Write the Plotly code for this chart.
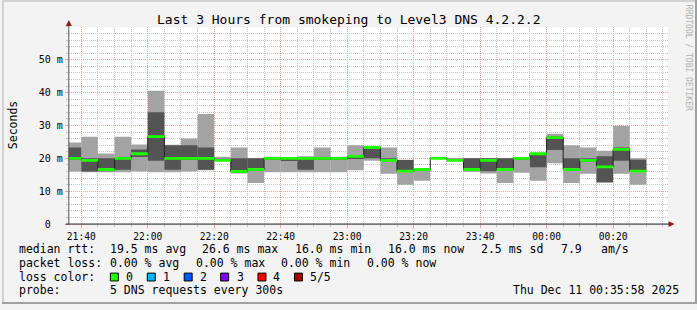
import plotly.graph_objects as go
import pandas as pd

W, H = 697, 310

# ---------------- data ----------------
# 5-minute slots (start times), 5 DNS probes per slot, sorted rtt in ms
slot_start = pd.date_range("2025-12-10 21:35:00", periods=35, freq="5min")
ping1 = [16.0, 15.8, 15.8, 15.8, 16.0, 15.8, 15.8, 16.0, 16.4, 19.2,
         15.4, 12.5, 15.8, 15.8, 15.8, 15.8, 15.8, 16.4, 19.3, 15.3,
         12.0, 13.2, 19.9, 19.2, 16.0, 15.4, 12.5, 15.6, 13.2, 18.5,
         12.5, 15.3, 12.5, 15.3, 12.0]
ping2 = [19.5, 16.0, 16.1, 16.5, 20.4, 19.3, 16.5, 19.5, 16.5, 19.3,
         15.8, 16.5, 19.8, 19.2, 16.5, 19.6, 19.6, 19.8, 20.0, 19.2,
         15.9, 16.4, 19.9, 19.3, 16.1, 16.1, 16.4, 19.6, 17.3, 22.5,
         16.4, 19.0, 12.8, 19.3, 16.0]
ping3 = [20.0, 19.4, 16.6, 20.0, 21.4, 26.6, 20.0, 20.0, 20.0, 19.4,
         16.0, 16.6, 20.0, 20.0, 20.0, 20.0, 20.0, 20.6, 23.3, 19.4,
         16.1, 16.6, 20.0, 19.4, 16.6, 19.4, 16.6, 20.0, 21.4, 26.3,
         16.6, 19.4, 17.4, 22.7, 16.1]
ping4 = [23.3, 20.0, 20.0, 20.2, 22.7, 34.0, 24.0, 24.0, 23.3, 19.8,
         20.0, 20.0, 20.2, 20.1, 20.2, 20.3, 20.2, 21.0, 23.5, 20.0,
         19.5, 16.8, 20.1, 19.8, 20.0, 20.0, 20.0, 20.2, 21.6, 26.7,
         20.0, 20.0, 20.6, 23.3, 19.6]
ping5 = [24.8, 26.6, 21.5, 26.6, 24.2, 40.6, 24.1, 26.0, 33.5, 20.5,
         23.3, 20.1, 20.5, 20.2, 20.6, 23.3, 20.5, 24.0, 23.6, 23.3,
         19.6, 17.0, 20.2, 20.0, 20.1, 20.1, 20.1, 20.4, 21.8, 27.5,
         24.0, 23.3, 22.3, 29.9, 20.0]

title_text = "Last 3 Hours from smokeping to Level3 DNS 4.2.2.2"
y_tick_vals = [0, 10, 20, 30, 40, 50]
y_tick_text = ["0\u00a0\u00a0", "10 m", "20 m", "30 m", "40 m", "50 m"]
x_range = ["2025-12-10 21:36:15", "2025-12-11 00:36:33"]

rtt_row = ["median rtt:", "19.5 ms avg", "26.6 ms max", "16.0 ms min",
           "16.0 ms now", "2.5 ms sd", "7.9", "am/s"]
loss_row = ["packet loss:", "0.00 % avg", "0.00 % max", "0.00 % min", "0.00 % now"]
loss_labels = ["0", "1", "2", "3", "4", "5/5"]
loss_colors = ["#20ff00", "#00b4ff", "#0058ff", "#7e00ff", "#ff0000", "#a10000"]
probe_row = ["probe:", "5 DNS requests every 300s"]
stamp = "Thu Dec 11 00:35:58 2025"
watermark = "RRDTOOL / TOBI OETIKER"

# ---------------- styling ----------------
FONT = "DejaVu Sans Mono"
STEP = pd.Timedelta("5min")
STEP_MS = STEP.total_seconds() * 1000
MAJOR = "#f2a0a0"
MINOR = "#c4c4c4"
LIGHT = "#a3a3a3"
DARK = "#545454"


def px(x):
    return x / W


def py(y):
    return 1 - y / H


centers = slot_start + STEP / 2

fig = go.Figure()
fig.add_trace(go.Bar(x=centers, y=[b - a for a, b in zip(ping1, ping5)], base=ping1,
                     width=STEP_MS, marker=dict(color=LIGHT, line=dict(width=0)),
                     hoverinfo="skip"))
fig.add_trace(go.Bar(x=centers, y=[b - a for a, b in zip(ping2, ping4)], base=ping2,
                     width=STEP_MS, marker=dict(color=DARK, line=dict(width=0)),
                     hoverinfo="skip"))
# median as dark step line
step_x = list(slot_start) + [slot_start[-1] + STEP]
step_y = list(ping3) + [ping3[-1]]
fig.add_trace(go.Scatter(x=step_x, y=step_y, mode="lines", line_shape="hv",
                         line=dict(color="#202020", width=1), hoverinfo="skip"))
# loss-coloured median segments (0 loss -> green)
seg_x, seg_y = [], []
for t, m in zip(slot_start, ping3):
    seg_x += [t, t + STEP, None]
    seg_y += [m, m, None]
fig.add_trace(go.Scatter(x=seg_x, y=seg_y, mode="lines",
                         line=dict(color=loss_colors[0], width=2.8), hoverinfo="skip"))

fig.update_layout(
    width=W, height=H, margin=dict(l=0, r=0, t=0, b=0),
    paper_bgcolor="#f3f3f3", plot_bgcolor="#ffffff",
    showlegend=False, barmode="overlay",
    font=dict(family=FONT, color="#000000"),
)
fig.update_xaxes(
    domain=[px(67), px(668)], type="date", range=x_range,
    tick0="2025-12-10 21:40:00", dtick=20 * 60 * 1000, tickformat="%H:%M",
    showgrid=True, gridcolor=MAJOR, gridwidth=1, griddash="1px,1px",
    ticks="outside", ticklen=3, tickcolor=MAJOR, tickwidth=1,
    tickfont=dict(family=FONT, size=9.6, color="#000000"),
    minor=dict(tick0="2025-12-10 21:40:00", dtick=5 * 60 * 1000, showgrid=True,
               gridcolor=MINOR, griddash="1px,1px", gridwidth=1,
               ticks="outside", ticklen=2, tickcolor=MINOR),
    showline=False, zeroline=False, fixedrange=True,
)
fig.update_yaxes(
    domain=[py(228.5), py(27.4)], range=[0, 60],
    tickmode="array", tickvals=y_tick_vals, ticktext=y_tick_text,
    showgrid=True, gridcolor=MAJOR, gridwidth=1, griddash="1px,1px",
    ticks="outside", ticklen=3, tickcolor=MAJOR, tickwidth=1,
    tickfont=dict(family=FONT, size=10, color="#000000"),
    minor=dict(tickmode="linear", tick0=0, dtick=2, showgrid=True,
               gridcolor=MINOR, griddash="1px,1px", gridwidth=1,
               ticks="outside", ticklen=2, tickcolor=MINOR),
    showline=False, zeroline=False, fixedrange=True,
)

shapes = []
# 3D frame
shapes.append(dict(type="rect", xref="paper", yref="paper", x0=0, x1=1, y0=py(0), y1=py(2),
                   fillcolor="#d2d2d2", line=dict(width=0), layer="above"))
shapes.append(dict(type="rect", xref="paper", yref="paper", x0=0, x1=px(2), y0=0, y1=1,
                   fillcolor="#d2d2d2", line=dict(width=0), layer="above"))
shapes.append(dict(type="rect", xref="paper", yref="paper", x0=0, x1=1, y0=py(H - 2), y1=0,
                   fillcolor="#a0a0a0", line=dict(width=0), layer="above"))
shapes.append(dict(type="rect", xref="paper", yref="paper", x0=px(W - 2), x1=1, y0=0, y1=1,
                   fillcolor="#a0a0a0", line=dict(width=0), layer="above"))
# axes with arrows
shapes.append(dict(type="line", xref="paper", yref="paper", x0=px(67), x1=px(67),
                   y0=py(229), y1=py(24), line=dict(color="#555555", width=1), layer="above"))
shapes.append(dict(type="line", xref="paper", yref="paper", x0=px(64), x1=px(670),
                   y0=py(228.5), y1=py(228.5), line=dict(color="#1a1a1a", width=1), layer="above"))
shapes.append(dict(type="path", xref="paper", yref="paper",
                   path=f"M {px(64)} {py(26.5)} L {px(70)} {py(26.5)} L {px(67)} {py(20.5)} Z",
                   fillcolor="#8e1a1a", line=dict(width=0), layer="above"))
shapes.append(dict(type="path", xref="paper", yref="paper",
                   path=f"M {px(668.5)} {py(225.5)} L {px(668.5)} {py(231.5)} L {px(674.5)} {py(228.5)} Z",
                   fillcolor="#8e1a1a", line=dict(width=0), layer="above"))
# loss colour boxes
box_x = [108.7, 145.7, 182.7, 219.3, 256.7, 293.3]
for bx, col in zip(box_x, loss_colors):
    shapes.append(dict(type="rect", xref="paper", yref="paper",
                       x0=px(bx), x1=px(bx + 8), y0=py(286.5), y1=py(278.5),
                       fillcolor=col, line=dict(color="#000000", width=1)))
fig.update_layout(shapes=shapes)

ann = []


def text(x, y, s, size=11.5, anchor="left", color="#000000", angle=0):
    ann.append(dict(x=px(x), y=py(y), xref="paper", yref="paper", text=s,
                    showarrow=False, xanchor=anchor, yanchor="middle",
                    borderpad=0, textangle=angle,
                    font=dict(family=FONT, size=size, color=color)))


text(347.7, 19.5, title_text, size=13, anchor="center")
text(11, 127.7, "Seconds", size=11.5, anchor="center", angle=-90)
text(688, 59, watermark, size=8, anchor="center", color="#b0b0b0", angle=90)

for xx, s in zip([16, 107.7, 200, 293.3, 386, 479.3, 559.3, 600], rtt_row):
    text(xx, 254.3, s)
for xx, s in zip([16, 107.7, 193.3, 279.3, 365], loss_row):
    text(xx, 268.3, s)
text(16, 282.3, "loss color:")
for xx, s in zip([123.3, 160.7, 197.3, 234.3, 271, 308.3], loss_labels):
    text(xx, 282.3, s)
for xx, s in zip([16, 107.7], probe_row):
    text(xx, 296, s)
text(680, 296, stamp, anchor="right")

fig.update_layout(annotations=ann)
fig.write_html("out.html")
